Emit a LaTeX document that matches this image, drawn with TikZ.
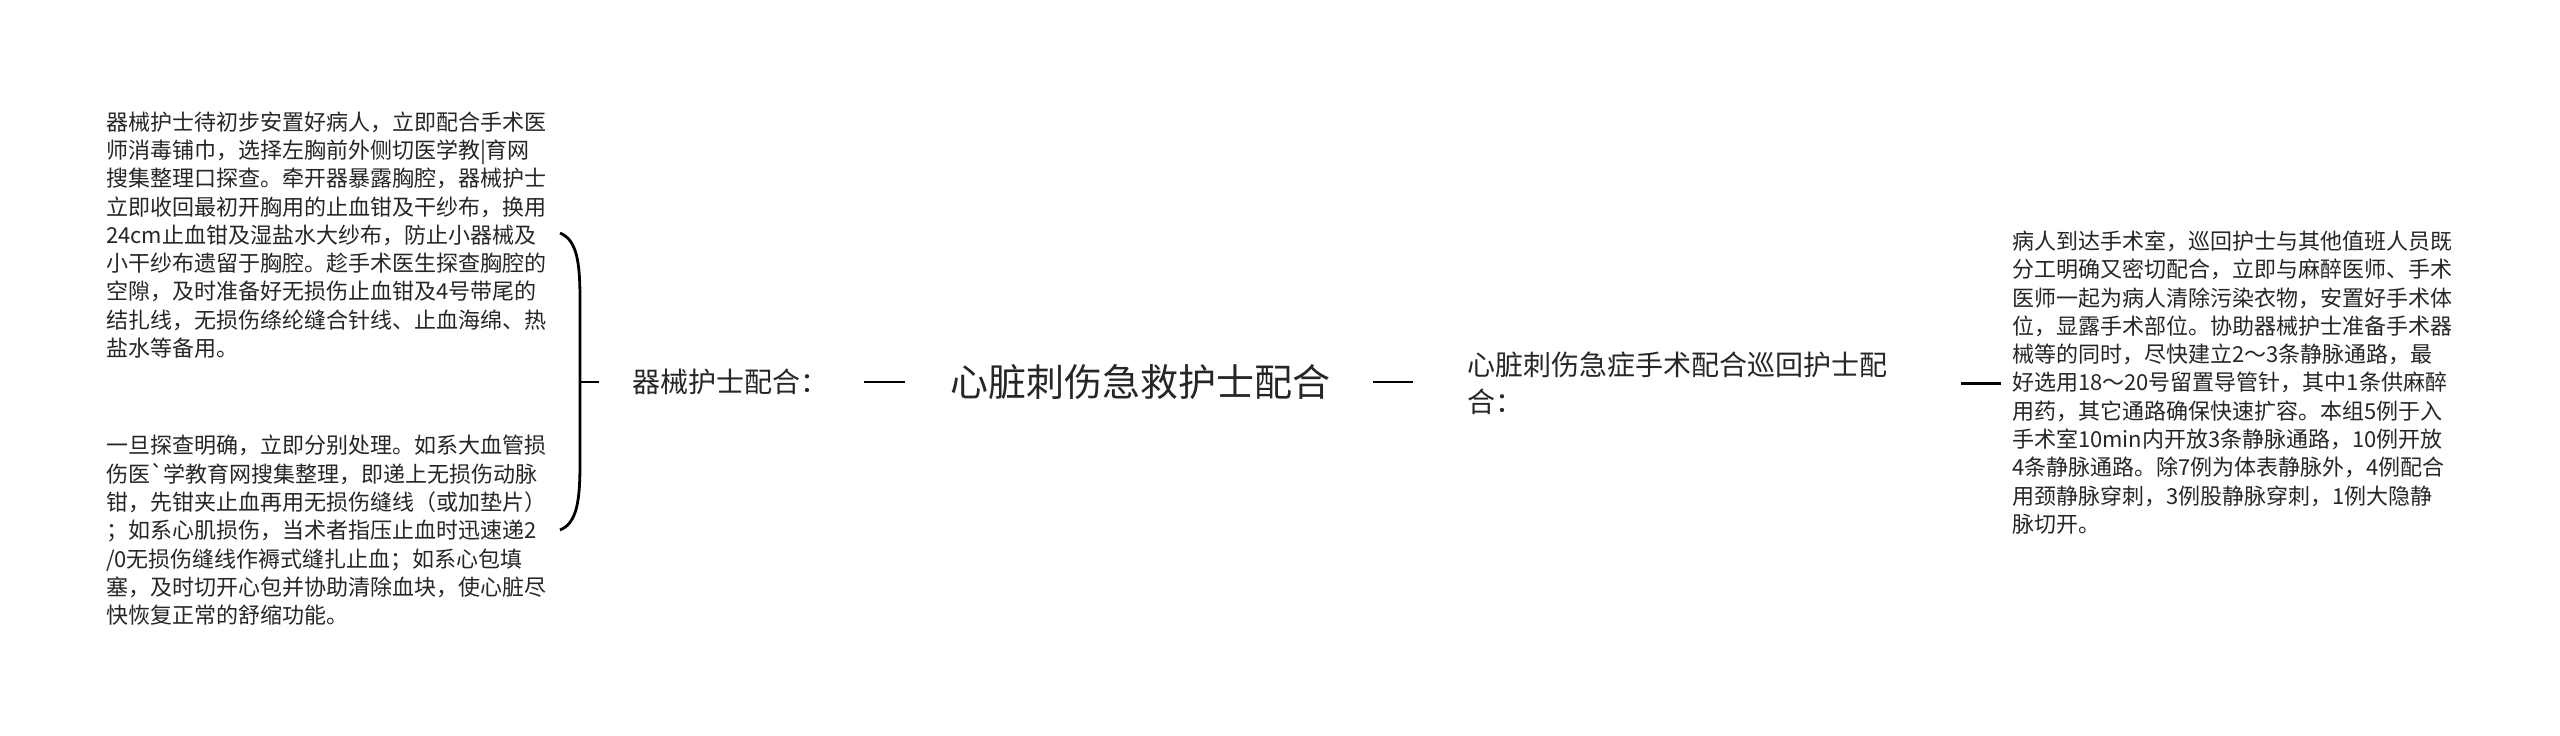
\documentclass[tikz,border=0pt]{standalone}
\usepackage{fontspec}
\newfontfamily\cjk{Noto Sans CJK SC}
\usetikzlibrary{calc}
\definecolor{txt}{HTML}{262626}
\begin{document}
\begin{tikzpicture}[x=0.5pt,y=-0.5pt,
  every node/.style={inner sep=0pt, outer sep=0pt, text=txt},
  conn/.style={line width=1.4pt, draw=black},
  leaf/.style={anchor=west, align=left, font=\cjk\fontsize{11pt}{14.15pt}\selectfont},
  lab/.style={anchor=west, align=left, font=\cjk\fontsize{14pt}{18.5pt}\selectfont},
  rootbox/.style={font=\cjk\fontsize{19pt}{23pt}\selectfont}]
\useasboundingbox[fill=white] (0,0) rectangle (2560,735);

\node[rootbox] (root) at (1140,382) {心脏刺伤急救护士配合};
\node[lab] (l1) at (632,382) {器械护士配合：};
\node[lab] (l2) at (1467,383.5) {心脏刺伤急症手术配合巡回护士配\\合：};

\node[leaf] (b1) at (106,235) {器械护士待初步安置好病人，立即配合手术医\\
师消毒铺巾，选择左胸前外侧切医学教|育网\\
搜集整理口探查。牵开器暴露胸腔，器械护士\\
立即收回最初开胸用的止血钳及干纱布，换用\\
24cm止血钳及湿盐水大纱布，防止小器械及\\
小干纱布遗留于胸腔。趁手术医生探查胸腔的\\
空隙，及时准备好无损伤止血钳及4号带尾的\\
结扎线，无损伤绦纶缝合针线、止血海绵、热\\
盐水等备用。};

\node[leaf] (b2) at (106,530.5) {一旦探查明确，立即分别处理。如系大血管损\\
伤医\symbol{96}学教育网搜集整理，即递上无损伤动脉\\
钳，先钳夹止血再用无损伤缝线（或加垫片）\\
；如系心肌损伤，当术者指压止血时迅速递2\\
/0无损伤缝线作褥式缝扎止血；如系心包填\\
塞，及时切开心包并协助清除血块，使心脏尽\\
快恢复正常的舒缩功能。};

\node[leaf] (b3) at (2012,382.5) {病人到达手术室，巡回护士与其他值班人员既\\
分工明确又密切配合，立即与麻醉医师、手术\\
医师一起为病人清除污染衣物，安置好手术体\\
位，显露手术部位。协助器械护士准备手术器\\
械等的同时，尽快建立2～3条静脉通路，最\\
好选用18～20号留置导管针，其中1条供麻醉\\
用药，其它通路确保快速扩容。本组5例于入\\
手术室10min内开放3条静脉通路，10例开放\\
4条静脉通路。除7例为体表静脉外，4例配合\\
用颈静脉穿刺，3例股静脉穿刺，1例大隐静\\
脉切开。};

% connectors
\draw[conn, shorten <=22.5pt, shorten >=18pt] (root.west) -- (l1.east);
\draw[conn, shorten <=21.5pt, shorten >=27pt] (root.east) -- (root.east -| l2.west);
\draw[conn, shorten <=37pt, shorten >=5.5pt] (l2.east) -- (l2.east -| b3.west);

% brace
\coordinate (bm) at (580,382);
\coordinate (bt) at (560,233);
\coordinate (bb) at (560,530);
\draw[conn, shorten <=16.5pt] (l1.west) -- (bm);
\draw[conn] (bt) .. controls (577,240) and (580,262) .. (580,300) -- (580,463) .. controls (580,501) and (577,523) .. (bb);
\end{tikzpicture}
\end{document}
